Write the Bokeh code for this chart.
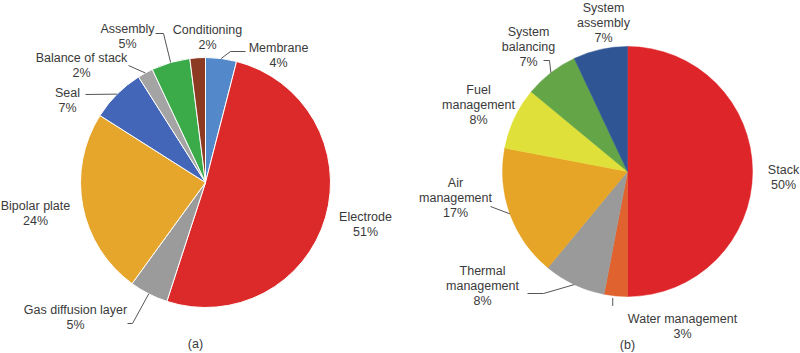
import math
from bokeh.plotting import figure
from bokeh.models import ColumnDataSource
from bokeh.embed import file_html
from bokeh.resources import INLINE
from bokeh.core.properties import value

# ---------------- data ----------------
a_categories = ["Membrane", "Electrode", "Gas diffusion layer", "Bipolar plate",
                "Seal", "Balance of stack", "Assembly", "Conditioning"]
a_values = [4, 51, 5, 24, 7, 2, 5, 2]

b_categories = ["Stack", "Water management", "Thermal management", "Air management",
                "Fuel management", "System balancing", "System assembly"]
b_values = [50, 3, 8, 17, 8, 7, 7]
# how category names are broken into lines in panel (b)
b_name_lines = [["Stack"], ["Water management"], ["Thermal", "management"],
                ["Air", "management"], ["Fuel", "management"],
                ["System", "balancing"], ["System", "assembly"]]

panel_titles = ["(a)", "(b)"]

# ---------------- layout / style ----------------
W, H = 800, 353
FONT = "Liberation Sans"
FSIZE = "12.5px"
TXT = "#3a3a3a"
LEAD = "#555555"
LINE_H = 15

a_colors = ["#5388CA", "#DC2A2B", "#9B9B9B", "#E6A52B",
            "#4466B8", "#A4A4A4", "#3BAB4A", "#8C3A22"]
b_colors = ["#DE2529", "#E0622E", "#9A9A9A", "#E6A526",
            "#E0E03A", "#64A548", "#2F5594"]

# label anchors (pixel coords: centre x, centre y of first line)
a_label_pos = [(278, 47), (365, 216), (75, 309), (35, 205),
               (67, 92), (81, 57), (127, 28), (207, 29)]
b_label_pos = [(783, 169), (682, 318), (482, 270), (455, 182),
               (478, 89), (528, 31), (603, 7)]
# leader elbows after the point on the pie edge (None = no leader)
a_leaders = [[(230, 51), (245, 51)], None, [(132, 323), (127, 323)], None,
             [(85, 94)], [(128, 65)], [(163, 33), (155, 33)], None]
b_leaders = [None, "vertical", [(543, 293), (527, 293)], [(490, 206)],
             None, [(549, 60), (543, 60)], None]

panels = [
    dict(cx=205, cy=182, r=125, values=a_values,
         names=[[c] for c in a_categories], colors=a_colors, border="white",
         label_pos=a_label_pos, leaders=a_leaders, title_pos=(195, 343)),
    dict(cx=627, cy=171, r=125, values=b_values,
         names=b_name_lines, colors=b_colors, border=None,
         label_pos=b_label_pos, leaders=b_leaders, title_pos=(627, 344)),
]

p = figure(width=W, height=H, x_range=(0, W), y_range=(0, H),
           output_backend="svg", toolbar_location=None,
           x_axis_type=None, y_axis_type=None, min_border=0)
p.grid.visible = False
p.outline_line_color = None
p.background_fill_color = "white"
p.border_fill_color = "white"


def Y(y):
    return H - y


tx, ty, tt = [], [], []
for k, pan in enumerate(panels):
    vals = pan["values"]
    total = float(sum(vals))
    cum = 0.0
    starts, ends, mids = [], [], []
    for v in vals:
        a0 = cum / total * 2 * math.pi
        cum += v
        a1 = cum / total * 2 * math.pi
        # clockwise from 12 o'clock -> standard angles
        starts.append(math.pi / 2 - a1)
        ends.append(math.pi / 2 - a0)
        mids.append((a0 + a1) / 2)
    src = ColumnDataSource(dict(
        x=[pan["cx"]] * len(vals), y=[Y(pan["cy"])] * len(vals),
        start=starts, end=ends, color=pan["colors"]))
    if pan["border"]:
        p.wedge(x="x", y="y", radius=pan["r"], start_angle="start", end_angle="end",
                direction="anticlock", fill_color="color", line_color=pan["border"],
                line_width=1, source=src)
    else:
        p.wedge(x="x", y="y", radius=pan["r"], start_angle="start", end_angle="end",
                direction="anticlock", fill_color="color", line_color="color",
                line_width=0.5, source=src)

    for i, v in enumerate(vals):
        lx, ly = pan["label_pos"][i]
        lines = pan["names"][i] + [f"{v}%"]
        for j, ln in enumerate(lines):
            tx.append(lx)
            ty.append(Y(ly + j * LINE_H))
            tt.append(ln)
        ld = pan["leaders"][i]
        if ld is None:
            continue
        ex = pan["cx"] + pan["r"] * math.sin(mids[i])
        ey = pan["cy"] - pan["r"] * math.cos(mids[i])
        if ld == "vertical":
            pts = [(ex - 3, ey + 2), (ex - 3, ey + 10)]
        else:
            pts = [(ex, ey)] + ld
        p.line([q[0] for q in pts], [Y(q[1]) for q in pts],
               line_color=LEAD, line_width=1)

    tx.append(pan["title_pos"][0])
    ty.append(Y(pan["title_pos"][1]))
    tt.append(panel_titles[k])

p.text(x=tx, y=ty, text=tt, text_font=value(FONT), text_font_size=FSIZE,
       text_color=TXT, text_align="center", text_baseline="middle")

open("out.html", "w").write(file_html(p, INLINE))
